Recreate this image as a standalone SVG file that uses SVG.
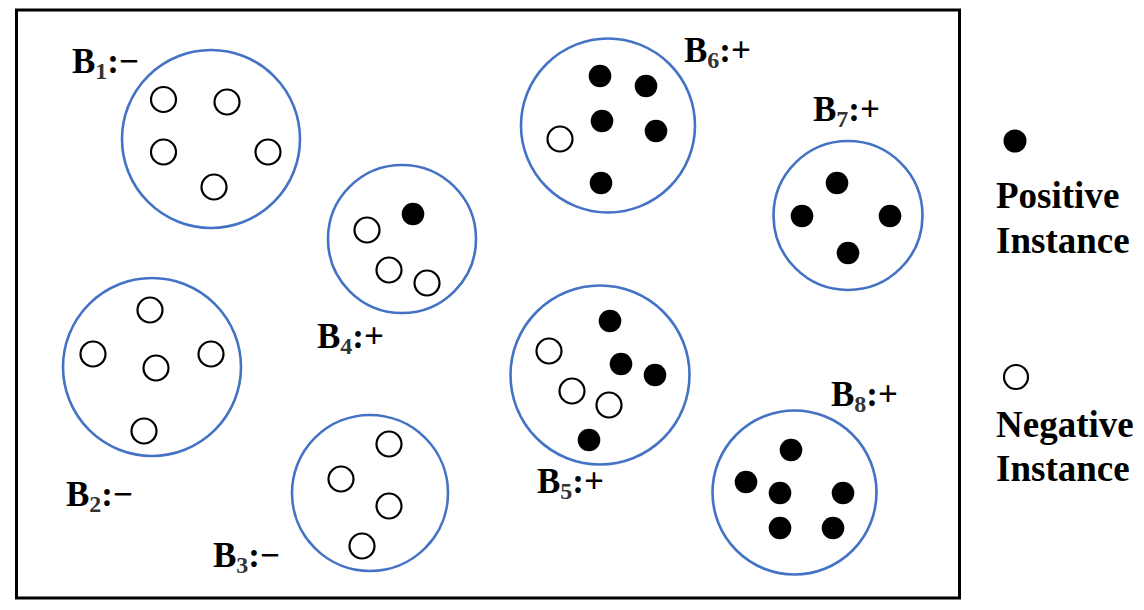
<svg xmlns="http://www.w3.org/2000/svg" width="1144" height="610" viewBox="0 0 1144 610">
<style>
.bag{fill:none;stroke:#4472C4;stroke-width:2.6}
.neg{fill:#fff;stroke:#000;stroke-width:2.2}
.pos{fill:#000}
.lbl{font-family:"Liberation Serif","Times New Roman",serif;font-weight:bold;font-size:35px;fill:#000}
.leg{font-size:37px}
.sub{font-size:24px;fill:#333}
</style>
<rect width="1144" height="610" fill="#fff"/>
<rect x="16.5" y="10" width="943" height="588" fill="none" stroke="#000" stroke-width="3"/>
<g id="connectors"/>
<g id="B1">
<circle class="bag" cx="211" cy="139" r="89"/>
<circle class="neg" cx="163.5" cy="99.5" r="12.5"/>
<circle class="neg" cx="227" cy="102" r="12.5"/>
<circle class="neg" cx="163.5" cy="152" r="12.5"/>
<circle class="neg" cx="268" cy="152" r="12.5"/>
<circle class="neg" cx="214" cy="187" r="12.5"/>
<text class="lbl" x="72" y="73">B<tspan class="sub" dy="6">1</tspan><tspan dy="-6">:−</tspan></text>
</g>
<g id="B2">
<circle class="bag" cx="152" cy="367" r="89"/>
<circle class="neg" cx="150" cy="310" r="12.5"/>
<circle class="neg" cx="93" cy="354" r="12.5"/>
<circle class="neg" cx="156" cy="368" r="12.5"/>
<circle class="neg" cx="211" cy="354" r="12.5"/>
<circle class="neg" cx="144" cy="431" r="12.5"/>
<text class="lbl" x="66" y="506">B<tspan class="sub" dy="6">2</tspan><tspan dy="-6">:−</tspan></text>
</g>
<g id="B3">
<circle class="bag" cx="370" cy="493" r="78"/>
<circle class="neg" cx="389" cy="444" r="12.5"/>
<circle class="neg" cx="341" cy="479" r="12.5"/>
<circle class="neg" cx="389" cy="506" r="12.5"/>
<circle class="neg" cx="362" cy="546" r="12.5"/>
<text class="lbl" x="213" y="567">B<tspan class="sub" dy="6">3</tspan><tspan dy="-6">:−</tspan></text>
</g>
<g id="B4">
<circle class="bag" cx="402" cy="239" r="74"/>
<circle class="pos" cx="413" cy="214" r="11.3"/>
<circle class="neg" cx="367" cy="230" r="12.5"/>
<circle class="neg" cx="389" cy="270" r="12.5"/>
<circle class="neg" cx="427" cy="283" r="12.5"/>
<text class="lbl" x="317" y="348">B<tspan class="sub" dy="6">4</tspan><tspan dy="-6">:+</tspan></text>
</g>
<g id="B5">
<circle class="bag" cx="600" cy="375" r="89.5"/>
<circle class="pos" cx="610" cy="321" r="11.3"/>
<circle class="pos" cx="621" cy="364" r="11.3"/>
<circle class="pos" cx="655" cy="375" r="11.3"/>
<circle class="pos" cx="589" cy="440" r="11.3"/>
<circle class="neg" cx="549" cy="351" r="12.5"/>
<circle class="neg" cx="572" cy="391" r="12.5"/>
<circle class="neg" cx="609" cy="405" r="12.5"/>
<text class="lbl" x="537" y="493">B<tspan class="sub" dy="6">5</tspan><tspan dy="-6">:+</tspan></text>
</g>
<g id="B6">
<circle class="bag" cx="608" cy="125.5" r="87"/>
<circle class="pos" cx="600" cy="76" r="11.3"/>
<circle class="pos" cx="646" cy="86" r="11.3"/>
<circle class="pos" cx="602" cy="121" r="11.3"/>
<circle class="pos" cx="656" cy="131" r="11.3"/>
<circle class="pos" cx="601" cy="183" r="11.3"/>
<circle class="neg" cx="560" cy="139" r="12.5"/>
<text class="lbl" x="684" y="62">B<tspan class="sub" dy="6">6</tspan><tspan dy="-6">:+</tspan></text>
</g>
<g id="B7">
<circle class="bag" cx="848" cy="215.5" r="74.5"/>
<circle class="pos" cx="837" cy="183" r="11.3"/>
<circle class="pos" cx="802" cy="216" r="11.3"/>
<circle class="pos" cx="890" cy="216" r="11.3"/>
<circle class="pos" cx="848" cy="253" r="11.3"/>
<text class="lbl" x="813" y="121">B<tspan class="sub" dy="6">7</tspan><tspan dy="-6">:+</tspan></text>
</g>
<g id="B8">
<circle class="bag" cx="794.5" cy="492.5" r="82"/>
<circle class="pos" cx="791" cy="450" r="11.3"/>
<circle class="pos" cx="746" cy="482" r="11.3"/>
<circle class="pos" cx="780" cy="493" r="11.3"/>
<circle class="pos" cx="843" cy="493" r="11.3"/>
<circle class="pos" cx="780" cy="528" r="11.3"/>
<circle class="pos" cx="833" cy="528" r="11.3"/>
<text class="lbl" x="831" y="406">B<tspan class="sub" dy="6">8</tspan><tspan dy="-6">:+</tspan></text>
</g>
<g id="legend-positive">
<circle class="pos" cx="1015" cy="141" r="11.5"/>
<text class="lbl leg" x="996" y="208">Positive</text>
<text class="lbl leg" x="996" y="253">Instance</text>
</g>
<g id="legend-negative">
<circle class="neg" cx="1016" cy="377" r="12"/>
<text class="lbl leg" x="996" y="437">Negative</text>
<text class="lbl leg" x="996" y="481">Instance</text>
</g>
</svg>
